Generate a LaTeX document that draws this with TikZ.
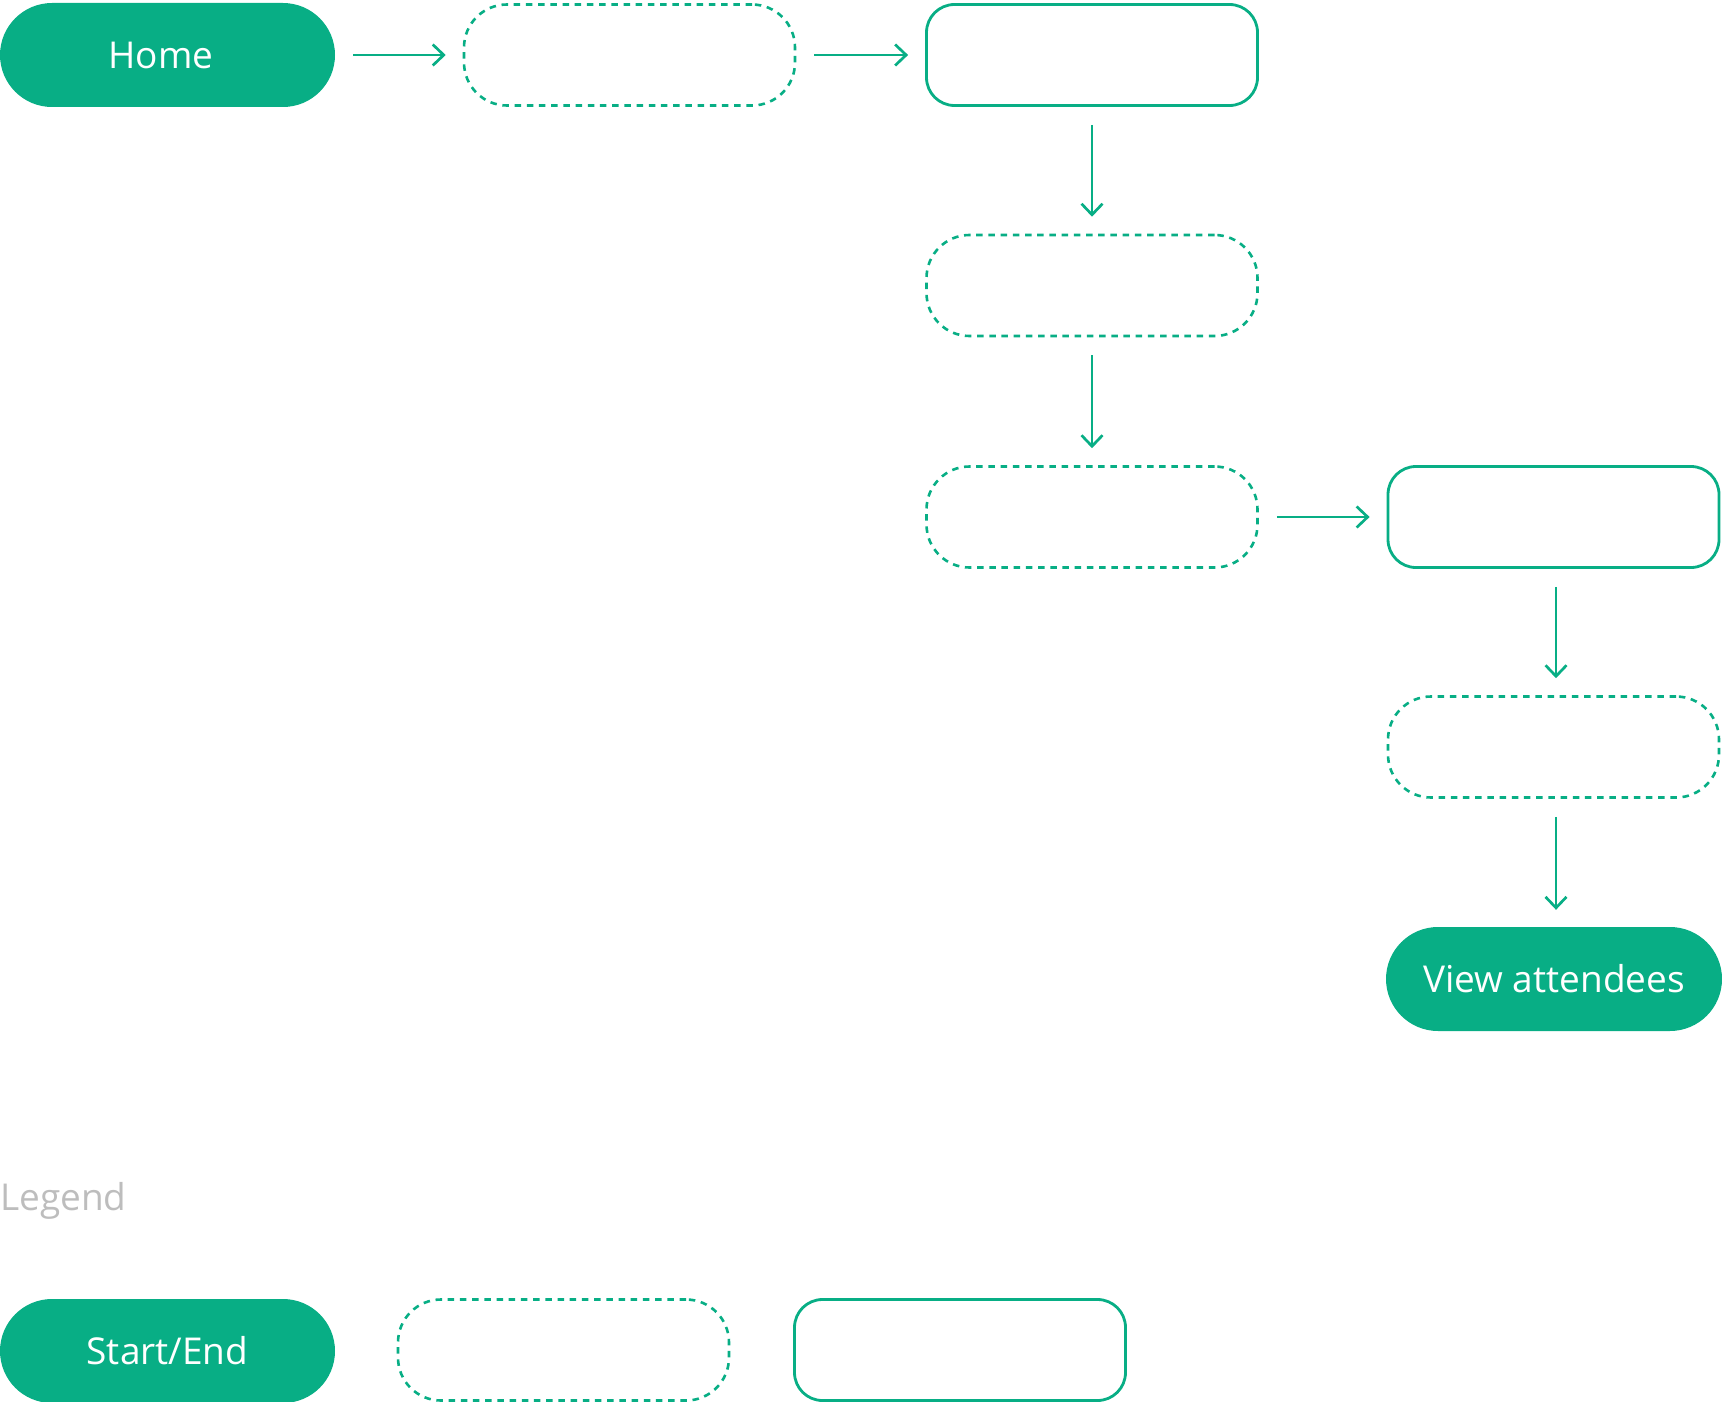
\documentclass[tikz,border=0pt]{standalone}
\usepackage{fontspec}
\setmainfont{Open Sans}
\usetikzlibrary{arrows.meta}
\definecolor{flowgreen}{RGB}{8,174,133}
\definecolor{legendgray}{RGB}{189,189,189}
\tikzset{
  x=1pt, y=1pt,
  pill/.style={fill=flowgreen, draw=none, rounded corners=52pt, minimum width=335pt, minimum height=104pt, inner sep=0pt, text=white, font=\fontsize{37}{42}\selectfont},
  optbox/.style={draw=flowgreen, line width=2.6pt, dash pattern=on 6.5pt off 5.7pt, rounded corners=43pt, minimum width=331pt, minimum height=101pt, inner sep=0pt},
  screenbox/.style={draw=flowgreen, line width=2.8pt, rounded corners=28pt, minimum width=331pt, minimum height=101pt, inner sep=0pt},
  flow/.style={draw=flowgreen, line width=2.7pt, -{Straight Barb[length=11pt, width=21pt, line width=2.7pt]}, shorten <=18pt, shorten >=17pt}
}
\begin{document}
\begin{tikzpicture}
\useasboundingbox (0,0) rectangle (1722,-1402);
\node[pill] (home) at (167.5,-55) {\hspace*{-13pt}Home};
\node[optbox] (a) at (629.5,-55) {};
\node[screenbox] (b) at (1092,-55) {};
\node[optbox] (c) at (1092,-285.5) {};
\node[optbox] (d) at (1092,-517) {};
\node[screenbox] (e) at (1553.5,-517) {};
\node[optbox] (f) at (1553.5,-747) {};
\node[pill, minimum width=336pt] (view) at (1554,-979) {View attendees};

\draw[flow] (home.east) -- (a.west);
\draw[flow] (a.east) -- (b.west);
\draw[flow] (b.south) -- (c.north);
\draw[flow] (c.south) -- (d.north);
\draw[flow] (d.east) -- (e.west);
\draw[flow] ([xshift=2.5pt]e.south) -- ([xshift=2.5pt]f.north);
\draw[flow] ([xshift=2.5pt]f.south) -- ([xshift=2.5pt]f.south |- view.north);

\node[anchor=base west, inner sep=0pt, text=legendgray, font=\fontsize{37}{42}\selectfont] (legend) at (0,-1210) {Legend};
\node[pill] (startend) at (167.5,-1351) {Start/End};
\node[optbox] (lopt) at (563.5,-1350) {};
\node[screenbox] (lscreen) at (960,-1350) {};
\end{tikzpicture}
\end{document}
